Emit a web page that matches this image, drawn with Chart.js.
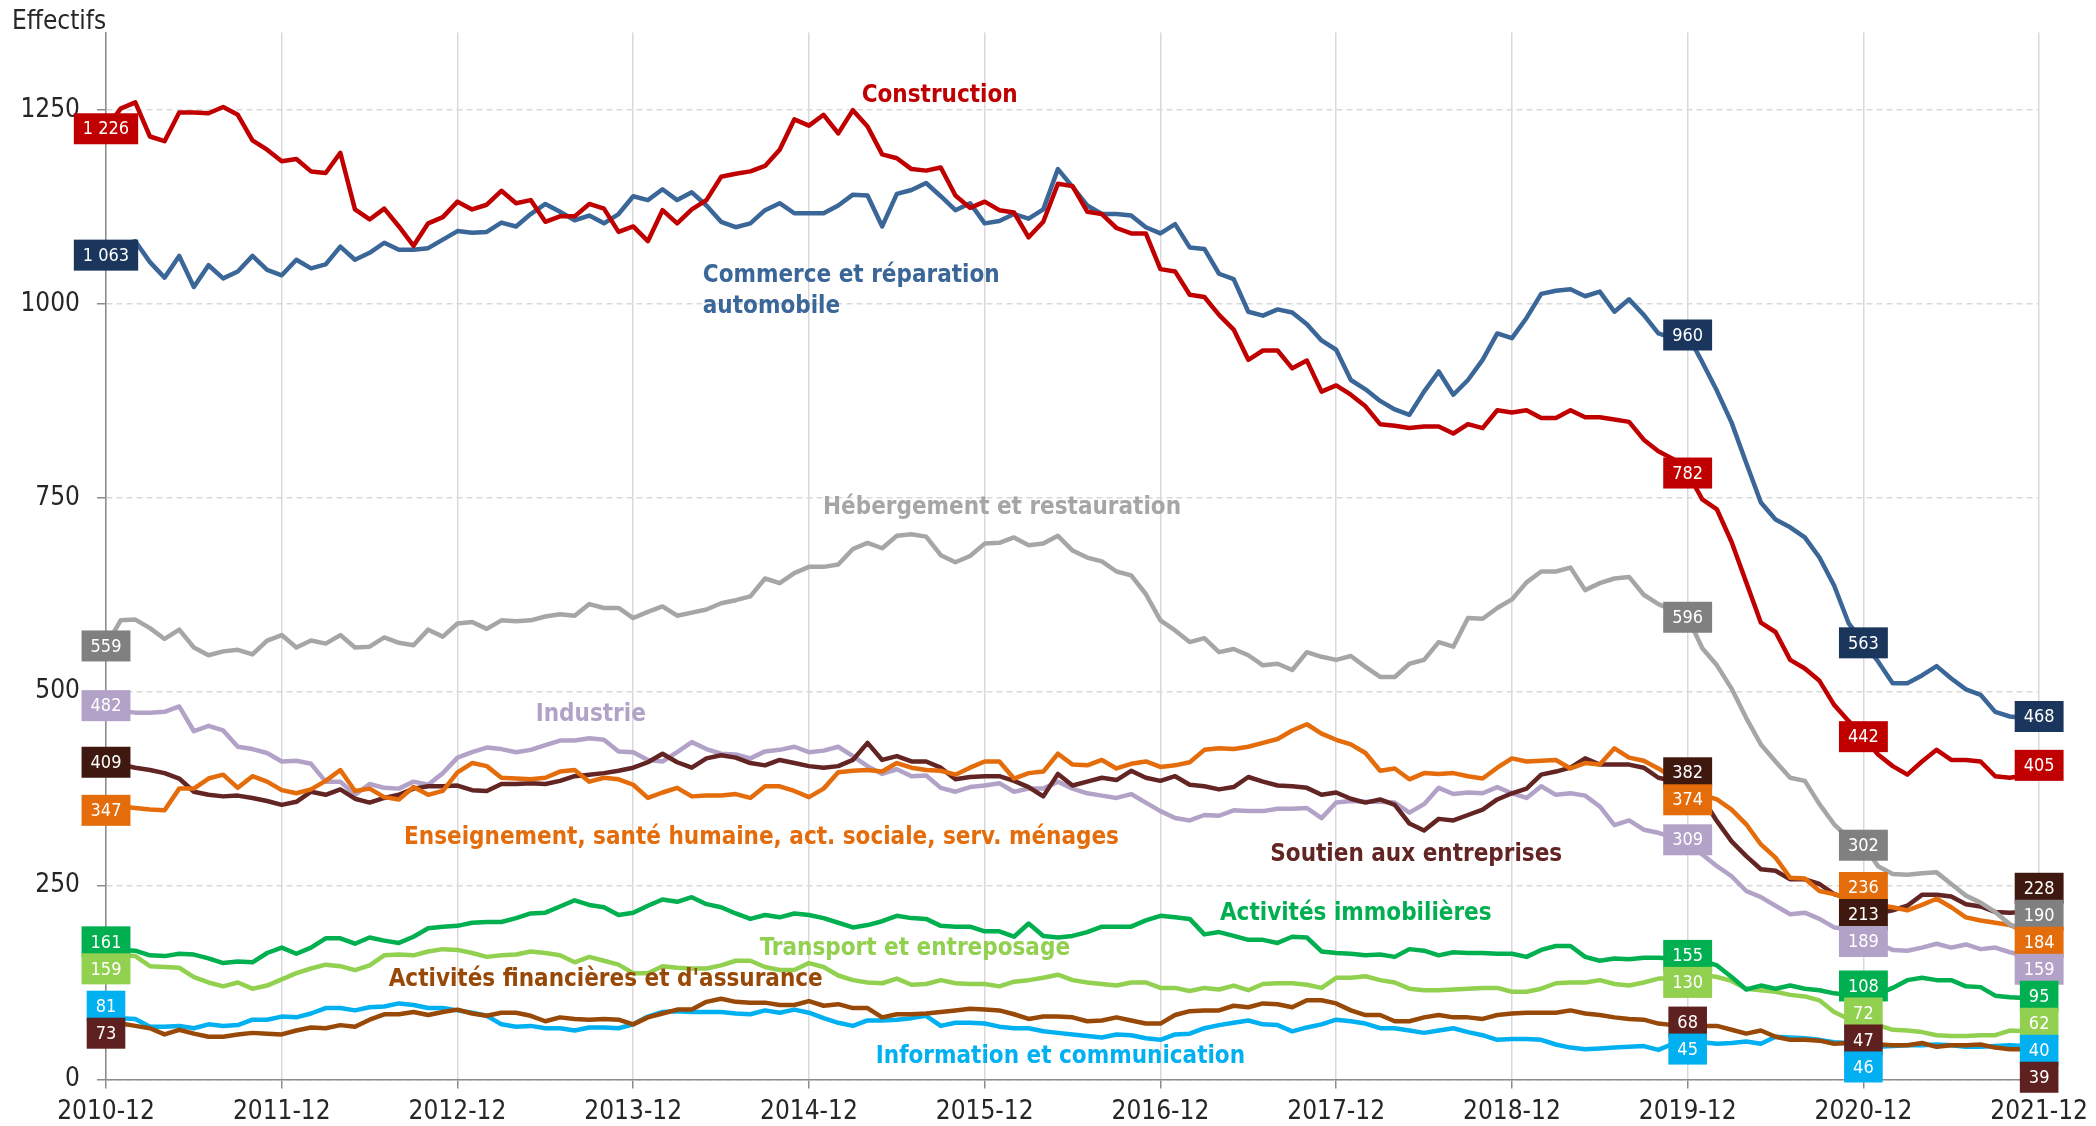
<!DOCTYPE html>
<html lang="fr">
<head>
<meta charset="utf-8">
<title>Effectifs par secteur</title>
<script src="https://cdn.jsdelivr.net/npm/chart.js@4.4.1/dist/chart.umd.min.js"></script>
<style>
  html, body { margin: 0; padding: 0; background: #fff; }
  #wrap { width: 2096px; height: 1126px; }
</style>
</head>
<body>
<div id="wrap"><canvas id="chart" width="2096" height="1126"></canvas></div>
<script>
// Mois de 2010-12 à 2021-12
const months = [];
for (let yr = 2010, mo = 12; months.length < 133; mo++) {
  if (mo > 12) { mo = 1; yr++; }
  months.push(yr + '-' + String(mo).padStart(2, '0'));
}

const yTicks = [0, 250, 500, 750, 1000, 1250];
const labelledMonths = [0, 108, 120, 132];

const construction = [
  1226, 1252, 1260, 1216, 1210, 1247, 1247, 1246, 1254, 1244, 1211, 1199,
  1184, 1187, 1171, 1169, 1195, 1122, 1109, 1123, 1100, 1075, 1104, 1112,
  1132, 1122, 1128, 1146, 1130, 1134, 1106, 1113, 1113, 1129, 1123, 1093,
  1100, 1081, 1121, 1104, 1122, 1134, 1164, 1168, 1171, 1178, 1199, 1238,
  1230, 1244, 1220, 1250, 1229, 1193, 1188, 1174, 1172, 1176, 1140, 1124,
  1132, 1121, 1118, 1086, 1106, 1155, 1152, 1119, 1116, 1098, 1091, 1091,
  1045, 1042, 1012, 1009, 986, 967, 928, 940, 940, 917, 927, 887,
  895, 883, 868, 845, 843, 840, 842, 842, 833, 845, 840, 863,
  860, 863, 853, 853, 863, 854, 854, 851, 848, 825, 810, 800,
  782, 748, 735, 693, 641, 589, 577, 541, 530, 514, 483, 462,
  442, 419, 404, 393, 410, 425, 412, 412, 410, 391, 389, 392,
  405
];
const commerce = [
  1063, 1075, 1081, 1054, 1034, 1062, 1022, 1050, 1033, 1042, 1062, 1044,
  1037, 1057, 1046, 1051, 1074, 1057, 1066, 1079, 1070, 1070, 1072, 1083,
  1094, 1092, 1093, 1105, 1100, 1116, 1129, 1119, 1108, 1114, 1104, 1116,
  1139, 1134, 1148, 1134, 1144, 1127, 1106, 1099, 1104, 1121, 1130, 1117,
  1117, 1117, 1127, 1141, 1140, 1100, 1142, 1147, 1156, 1139, 1121, 1130,
  1104, 1107, 1116, 1110, 1122, 1174, 1151, 1127, 1116, 1116, 1114, 1099,
  1091, 1103, 1073, 1071, 1039, 1032, 990, 985, 993, 989, 974, 953,
  941, 902, 890, 875, 864, 857, 887, 913, 883, 902, 928, 962,
  956, 982, 1013, 1017, 1019, 1010, 1016, 990, 1006, 986, 962, 956,
  960, 925, 888, 847, 795, 744, 722, 712, 699, 673, 637, 588,
  563, 539, 511, 511, 521, 533, 517, 503, 496, 474, 468, 466,
  468
];
const hebergement = [
  559, 592, 593, 582, 568, 580, 557, 547, 552, 554, 548, 566,
  573, 557, 566, 562, 573, 557, 558, 570, 563, 560, 580, 571,
  588, 590, 581, 592, 591, 592, 597, 600, 598, 613, 608, 608,
  595, 603, 610, 598, 602, 606, 614, 618, 623, 646, 640, 653,
  661, 661, 664, 684, 692, 685, 701, 703, 700, 676, 667, 675,
  691, 692, 699, 689, 691, 701, 682, 673, 668, 655, 650, 626,
  592, 579, 564, 569, 551, 555, 547, 534, 536, 528, 551, 545,
  541, 546, 532, 519, 519, 536, 541, 564, 558, 595, 594, 608,
  619, 641, 655, 655, 660, 631, 640, 646, 648, 625, 613, 605,
  596, 556, 534, 504, 466, 432, 410, 389, 385, 355, 329, 311,
  302, 275, 265, 264, 266, 267, 252, 237, 228, 216, 200, 192,
  190
];
const industrie = [
  482, 475, 473, 473, 474, 481, 449, 456, 450, 429, 426, 421,
  410, 411, 407, 384, 384, 367, 381, 376, 375, 384, 380, 395,
  415, 422, 428, 426, 422, 425, 431, 437, 437, 440, 438, 423,
  422, 412, 410, 422, 435, 426, 420, 419, 414, 423, 425, 429,
  422, 424, 429, 417, 404, 394, 400, 391, 392, 376, 371, 377,
  379, 382, 371, 375, 375, 384, 375, 369, 366, 363, 368, 357,
  346, 337, 334, 341, 340, 347, 346, 346, 349, 349, 350, 337,
  357, 359, 358, 358, 357, 344, 355, 376, 368, 370, 369, 377,
  369, 363, 378, 367, 369, 366, 352, 328, 334, 322, 318, 312,
  309, 290, 275, 262, 243, 235, 224, 213, 215, 207, 196, 194,
  189, 175, 167, 166, 170, 175, 170, 174, 168, 170, 164, 160,
  159
];
const soutien = [
  409, 406, 402, 399, 395, 388, 371, 367, 365, 366, 363, 359,
  354, 358, 371, 367, 374, 362, 357, 363, 367, 375, 378, 378,
  379, 373, 372, 381, 381, 382, 381, 385, 391, 393, 395, 398,
  402, 409, 420, 409, 402, 414, 418, 415, 408, 405, 412, 408,
  404, 402, 404, 412, 434, 412, 417, 410, 410, 402, 387, 390,
  391, 391, 385, 377, 365, 394, 379, 384, 389, 386, 398, 389,
  385, 391, 380, 378, 374, 377, 390, 384, 379, 378, 376, 367,
  370, 362, 357, 361, 354, 330, 321, 336, 334, 341, 348, 361,
  369, 375, 393, 397, 402, 414, 406, 406, 406, 402, 389, 385,
  382, 363, 333, 307, 288, 271, 269, 258, 258, 252, 239, 233,
  213, 214, 218, 224, 238, 238, 236, 226, 223, 216, 215, 216,
  228
];
const enseignement = [
  347, 352, 350, 348, 347, 375, 375, 388, 393, 376, 391, 384,
  373, 369, 374, 385, 399, 372, 375, 364, 361, 377, 367, 372,
  396, 408, 404, 389, 388, 387, 389, 397, 399, 384, 389, 387,
  380, 363, 370, 376, 365, 366, 366, 368, 363, 378, 378, 372,
  364, 375, 396, 398, 399, 397, 408, 402, 399, 398, 393, 402,
  410, 410, 388, 395, 397, 420, 406, 405, 412, 401, 407, 410,
  403, 405, 409, 425, 427, 426, 429, 434, 439, 450, 458, 446,
  438, 432, 421, 398, 401, 387, 395, 394, 395, 391, 388, 402,
  414, 410, 411, 412, 401, 408, 406, 427, 415, 411, 401, 389,
  374, 367, 361, 348, 329, 303, 286, 260, 259, 243, 239, 234,
  236, 225, 222, 218, 225, 233, 222, 209, 205, 202, 199, 192,
  184
];
const immobilier = [
  161, 167, 166, 160, 159, 162, 161, 156, 150, 152, 151, 163,
  170, 162, 170, 182, 182, 175, 183, 179, 176, 184, 195, 197,
  198, 202, 203, 203, 208, 214, 215, 223, 231, 225, 222, 212,
  215, 224, 232, 229, 235, 226, 222, 214, 207, 212, 209, 214,
  212, 208, 202, 196, 199, 204, 211, 208, 207, 198, 197, 197,
  191, 191, 184, 201, 185, 183, 185, 190, 197, 197, 197, 205,
  211, 209, 207, 187, 190, 185, 180, 180, 176, 184, 183, 165,
  163, 162, 160, 161, 158, 168, 166, 160, 164, 163, 163, 162,
  162, 158, 167, 172, 172, 158, 153, 156, 155, 157, 157, 156,
  155, 153, 147, 132, 116, 121, 117, 121, 117, 115, 111, 109,
  108, 110, 118, 128, 131, 128, 128, 120, 119, 108, 106, 105,
  95
];
const transport = [
  159, 160, 159, 146, 145, 144, 132, 125, 120, 125, 117, 121,
  129, 137, 143, 148, 146, 141, 147, 160, 161, 160, 165, 168,
  167, 163, 158, 160, 161, 165, 163, 160, 151, 158, 153, 148,
  137, 137, 146, 144, 143, 143, 147, 153, 153, 145, 141, 141,
  150, 145, 134, 128, 125, 124, 130, 122, 123, 128, 124, 123,
  123, 120, 126, 128, 131, 135, 128, 125, 123, 121, 125, 125,
  118, 118, 114, 118, 116, 121, 115, 123, 124, 124, 122, 118,
  131, 131, 133, 128, 125, 117, 115, 115, 116, 117, 118, 118,
  113, 113, 117, 124, 125, 125, 128, 123, 121, 125, 130, 130,
  130, 135, 132, 127, 117, 115, 113, 109, 107, 102, 87, 78,
  72, 70, 64, 63, 61, 57, 56, 56, 57, 57, 63, 62,
  62
];
const information = [
  81, 79, 78, 68, 68, 69, 66, 71, 69, 70, 77, 77,
  81, 80, 85, 92, 92, 89, 93, 94, 98, 96, 92, 92,
  89, 86, 82, 71, 68, 69, 66, 66, 63, 67, 67, 66,
  71, 81, 87, 88, 87, 87, 87, 85, 84, 89, 86, 90,
  86, 79, 73, 69, 76, 76, 77, 79, 82, 69, 73, 73,
  72, 68, 66, 66, 62, 60, 58, 56, 54, 58, 57, 53,
  51, 58, 59, 66, 70, 73, 76, 71, 70, 62, 67, 71,
  77, 75, 72, 66, 66, 63, 60, 63, 66, 61, 57, 51,
  52, 52, 51, 45, 41, 39, 40, 41, 42, 43, 38, 46,
  45, 48, 46, 47, 49, 46, 55, 54, 53, 51, 48, 47,
  46, 42, 43, 44, 44, 45, 44, 42, 42, 43, 44, 43,
  40
];
const finance = [
  73, 72, 69, 66, 58, 64, 59, 55, 55, 58, 60, 59,
  58, 63, 67, 66, 70, 68, 77, 84, 84, 87, 83, 87,
  90, 85, 82, 86, 86, 82, 75, 80, 78, 77, 78, 77,
  71, 80, 85, 90, 90, 100, 104, 100, 99, 99, 96, 96,
  101, 95, 97, 92, 92, 80, 84, 84, 85, 87, 89, 91,
  90, 89, 84, 78, 81, 81, 80, 75, 76, 80, 76, 72,
  72, 83, 88, 89, 89, 95, 93, 98, 97, 93, 102, 102,
  98, 89, 83, 83, 75, 75, 80, 83, 80, 80, 78, 83,
  85, 86, 86, 86, 89, 85, 83, 80, 78, 77, 72, 70,
  68, 69, 69, 64, 59, 63, 55, 51, 51, 50, 46, 47,
  47, 45, 44, 44, 47, 42, 44, 44, 45, 41, 39, 39,
  39
];

const FONT = "'DejaVu Sans Condensed', 'Liberation Sans Narrow', 'DejaVu Sans', sans-serif";
const TEXT = '#262626';

// premier de la liste = dessiné au-dessus
const series = [
  { name: 'Construction', data: construction, line: '#C00000', box: '#C00000' },
  { name: 'Commerce et réparation automobile', data: commerce, line: '#3B6698', box: '#1B365D' },
  { name: 'Hébergement et restauration', data: hebergement, line: '#A6A6A6', box: '#808080' },
  { name: 'Enseignement, santé humaine, act. sociale, serv. ménages', data: enseignement, line: '#E46C0A', box: '#E46C0A' },
  { name: 'Soutien aux entreprises', data: soutien, line: '#632523', box: '#3F1910' },
  { name: 'Industrie', data: industrie, line: '#B3A2C7', box: '#B3A2C7' },
  { name: 'Activités immobilières', data: immobilier, line: '#00B050', box: '#00B050' },
  { name: 'Transport et entreposage', data: transport, line: '#92D050', box: '#92D050' },
  { name: "Activités financières et d'assurance", data: finance, line: '#984807', box: '#5E2120' },
  { name: 'Information et communication', data: information, line: '#00B0F0', box: '#00B0F0' }
];

// étiquettes des secteurs : mois (index) et valeur où commence le texte
const seriesNotes = [
  { lines: ['Construction'], color: '#C00000', at: 51.6, value: 1269 },
  { lines: ['Commerce et réparation', 'automobile'], color: '#3B6698', at: 40.75, value: 1037 },
  { lines: ['Hébergement et restauration'], color: '#A6A6A6', at: 48.96, value: 737 },
  { lines: ['Industrie'], color: '#B3A2C7', at: 29.34, value: 470 },
  { lines: ['Enseignement, santé humaine, act. sociale, serv. ménages'], color: '#E46C0A', at: 20.35, value: 312 },
  { lines: ['Soutien aux entreprises'], color: '#632523', at: 79.5, value: 290 },
  { lines: ['Activités immobilières'], color: '#00B050', at: 76.06, value: 213 },
  { lines: ['Transport et entreposage'], color: '#92D050', at: 44.64, value: 168 },
  { lines: ["Activités financières et d'assurance"], color: '#984807', at: 19.3, value: 128 },
  { lines: ['Information et communication'], color: '#00B0F0', at: 52.56, value: 29 }
];

const fmt = v => v >= 1000 ? Math.floor(v / 1000) + ' ' + String(v % 1000).padStart(3, '0') : String(v);
const isDec = i => months[i] && months[i].endsWith('-12');

// écarte verticalement les étiquettes d'une même colonne
function spread(items, gap) {
  items.sort((a, b) => a.want - b.want);
  let groups = items.map(it => ({ members: [it], sum: it.want }));
  const span = g => (g.members.length - 1) * gap / 2;
  const mid = g => g.sum / g.members.length;
  let merged = true;
  while (merged) {
    merged = false;
    for (let i = 0; i < groups.length - 1; i++) {
      const a = groups[i], b = groups[i + 1];
      if ((mid(b) - span(b)) - (mid(a) + span(a)) < gap) {
        a.members = a.members.concat(b.members);
        a.sum += b.sum;
        groups.splice(i + 1, 1);
        merged = true;
        break;
      }
    }
  }
  groups.forEach(g => {
    const top = mid(g) - span(g);
    g.members.forEach((m, k) => { m.y = top + k * gap; });
  });
  return items;
}

const valueBoxes = {
  id: 'valueBoxes',
  afterDatasetsDraw(chart) {
    const { ctx, scales: { x, y } } = chart;
    ctx.save();
    ctx.font = '18px ' + FONT;
    ctx.textAlign = 'center';
    ctx.textBaseline = 'middle';
    labelledMonths.forEach(idx => {
      const items = series.map(s => ({
        text: fmt(s.data[idx]),
        color: s.box,
        x: x.getPixelForValue(idx),
        want: y.getPixelForValue(s.data[idx])
      }));
      spread(items, 27).forEach(it => {
        const w = ctx.measureText(it.text).width + 18;
        ctx.fillStyle = it.color;
        ctx.fillRect(it.x - w / 2, it.y - 15.5, w, 31);
        ctx.fillStyle = '#fff';
        ctx.fillText(it.text, it.x, it.y + 1);
      });
    });
    ctx.restore();
  }
};

const notes = {
  id: 'notes',
  afterDatasetsDraw(chart) {
    const { ctx, scales: { x, y } } = chart;
    ctx.save();
    ctx.textAlign = 'left';
    ctx.textBaseline = 'middle';
    ctx.font = 'bold 24px ' + FONT;
    seriesNotes.forEach(n => {
      ctx.fillStyle = n.color;
      n.lines.forEach((t, k) => {
        ctx.fillText(t, x.getPixelForValue(n.at), y.getPixelForValue(n.value) + k * 31.5);
      });
    });
    ctx.font = '26px ' + FONT;
    ctx.fillStyle = TEXT;
    ctx.fillText('Effectifs', 12, 22);
    ctx.restore();
  }
};

new Chart(document.getElementById('chart'), {
  type: 'line',
  data: {
    labels: months,
    datasets: series.map(s => ({
      label: s.name,
      data: s.data,
      borderColor: s.line,
      backgroundColor: s.line,
      borderWidth: 4.5,
      pointRadius: 0,
      tension: 0,
      borderJoinStyle: 'round',
      fill: false
    }))
  },
  options: {
    responsive: false,
    animation: false,
    events: [],
    layout: { padding: { top: 28.4, right: 55, left: 0, bottom: 0 } },
    plugins: { legend: { display: false }, tooltip: { enabled: false } },
    scales: {
      x: {
        type: 'category',
        offset: false,
        afterFit: s => { s.height = 46.6; },
        grid: {
          color: c => isDec(c.index) ? '#D9D9D9' : 'rgba(0,0,0,0)',
          tickColor: c => isDec(c.index) ? '#8C8C8C' : 'rgba(0,0,0,0)',
          lineWidth: 1.5,
          tickLength: 9
        },
        border: { color: '#8C8C8C', width: 1.5 },
        ticks: {
          autoSkip: false,
          maxRotation: 0,
          padding: 8,
          color: TEXT,
          font: { family: FONT, size: 26 },
          callback: (v, i) => isDec(i) ? months[i] : ''
        }
      },
      y: {
        min: 0,
        max: 1350,
        afterFit: s => { s.width = 106; },
        afterBuildTicks: s => { s.ticks = yTicks.map(v => ({ value: v })); },
        grid: {
          color: '#D9D9D9',
          lineWidth: 1.5,
          tickColor: '#8C8C8C',
          tickLength: 9,
          tickBorderDash: []
        },
        border: { color: '#8C8C8C', width: 1.5, dash: [6, 4] },
        ticks: {
          padding: 17,
          color: TEXT,
          font: { family: FONT, size: 26 },
          callback: v => String(v)
        }
      }
    }
  },
  plugins: [valueBoxes, notes]
});
</script>
</body>
</html>
